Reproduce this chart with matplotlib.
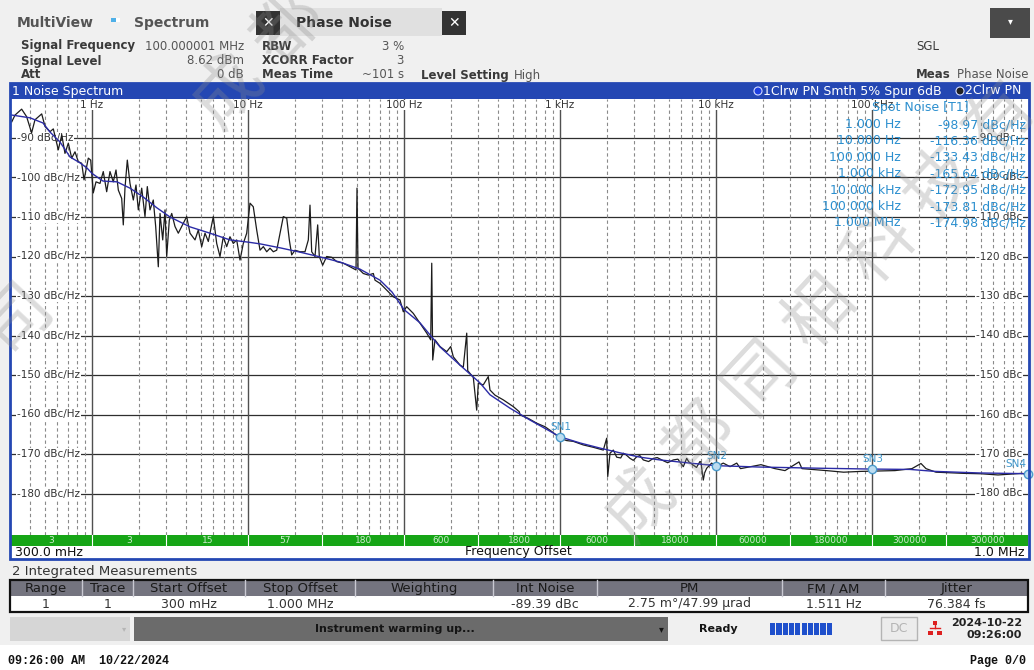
import numpy as np
import matplotlib
matplotlib.use('Agg')
import matplotlib.pyplot as plt
from matplotlib.patches import Rectangle, Circle
import matplotlib.transforms as mtransforms

# ---------------- data ----------------
# raw trace 2 (black, with spurs): offset frequency [Hz], phase noise [dBc/Hz]
raw_freq = [0.306, 0.321, 0.354, 0.381, 0.410, 0.431, 0.476, 0.500, 0.538, 0.565,
            0.608, 0.640, 0.671, 0.705, 0.741, 0.778, 0.817, 0.859, 0.889, 0.947,
            0.981, 1.019, 1.061, 1.125, 1.181, 1.242, 1.304, 1.369, 1.425, 1.475,
            1.550, 1.587, 1.627, 1.684, 1.752, 1.840, 1.914, 1.981, 2.083, 2.186,
            2.262, 2.354, 2.471, 2.560, 2.661, 2.729, 2.840, 2.938, 3.012, 3.130,
            3.244, 3.404, 3.574, 3.758, 4.046, 4.248, 4.574, 4.802, 5.049, 5.302,
            5.567, 5.992, 6.300, 6.614, 6.945, 7.302, 7.665, 8.049, 8.462, 8.887,
            9.330, 9.810, 10.30, 10.81, 11.37, 11.94, 12.54, 13.18, 13.84, 14.53,
            15.28, 16.21, 16.84, 17.71, 18.40, 19.06, 20.01, 21.54, 23.19, 24.36,
            24.97, 25.60, 26.88, 27.97, 28.65, 30.11, 31.94, 34.40, 37.05, 40.85,
            45.08, 49.24, 49.97, 50.72, 54.85, 59.06, 63.60, 65.20, 70.21, 77.44,
            85.35, 94.20, 99.02, 104.0, 114.7, 126.7, 139.9, 148.3, 150.6, 152.8,
            158.0, 170.2, 187.9, 199.2, 207.1, 228.6, 240.0, 252.4, 256.1, 278.1,
            292.4, 299.4, 322.3, 346.9, 355.8, 383.2, 433.1, 501.9, 548.5, 554.2,
            626.9, 709.4, 802.1, 885.1, 1000, 1104, 1217, 1410, 1635, 1895,
            1992, 2023, 2092, 2197, 2309, 2450, 2546, 2650, 2811, 2950,
            3103, 3250, 3420, 3700, 3965, 4200, 4595, 4900, 5324, 5700,
            6000, 6171, 6488, 6700, 7150, 7500, 7887, 8000, 8290, 8450,
            8714, 9380, 10090,
            11130, 12300, 13580, 14360, 19420, 23880, 27680, 34040, 35570, 51070,
            65770, 84770, 109200, 140300, 180300, 206000, 221900, 257200, 388900, 500000,
            642200, 915500, 1000000]
raw_db = [-85.9, -84.2, -82.7, -84.6, -88.7, -85.4, -83.9, -87.1, -88.4, -87.7,
          -93.0, -89.2, -93.9, -91.3, -95.1, -93.5, -96.0, -96.4, -100.6, -95.1,
          -95.6, -103.9, -101.1, -101.5, -98.5, -103.6, -98.5, -101.1, -98.1, -103.2,
          -105.3, -112.0, -102.7, -95.6, -101.5, -105.7, -101.9, -108.2, -102.7, -109.9,
          -102.3, -108.2, -105.7, -112.4, -122.6, -109.1, -115.8, -108.2, -120.0, -110.8,
          -109.1, -112.4, -114.1, -112.4, -109.9, -114.1, -115.8, -113.3, -117.5, -114.1,
          -116.2, -109.9, -116.7, -120.0, -115.0, -117.5, -115.0, -116.7, -115.8, -120.9,
          -116.7, -114.1, -106.5, -107.4, -113.3, -118.4, -117.5, -118.8, -117.9, -118.8,
          -118.4, -113.3, -109.9, -110.3, -115.8, -119.6, -118.4, -118.8, -118.8, -115.8,
          -107.0, -118.8, -120.0, -112.0, -120.0, -122.2, -120.0, -120.2, -121.3, -121.7,
          -122.6, -123.4, -102.7, -123.0, -124.3, -124.7, -124.3, -126.0, -126.8, -128.5,
          -130.2, -131.0, -134.0, -132.7, -134.4, -136.9, -139.4, -141.1, -121.7, -146.2,
          -141.1, -142.8, -144.1, -142.8, -145.4, -147.5, -148.0, -139.4, -148.9, -150.6,
          -158.9, -152.1, -152.5, -150.4, -153.8, -155.1, -156.3, -158.0, -159.3, -160.1,
          -161.0, -162.2, -163.1, -164.3, -166.0, -166.6, -166.8, -167.7, -168.3, -169.0,
          -166.0, -175.7, -169.8, -169.0, -170.8, -171.0, -169.8, -170.2, -171.1, -171.6,
          -170.7, -170.4, -171.5, -171.9, -171.1, -170.9, -171.7, -172.2, -171.5, -171.3,
          -172.5, -173.2, -171.1, -172.0, -172.8, -173.4, -171.9, -172.0, -176.6, -174.8,
          -173.6, -172.3, -173.2,
          -172.3, -173.2, -172.3, -173.7, -172.7, -173.7, -174.2, -172.0, -173.7, -174.2,
          -174.6, -174.4, -174.3, -174.2, -173.7, -172.4, -173.7, -174.6, -174.9, -175.0,
          -175.3, -174.9, -175.3]

# smoothed trace 1 (blue, spurs removed)
smooth_freq = [0.307, 0.401, 0.485, 0.538, 0.623, 0.723, 0.838, 0.929, 1.0, 1.176,
               1.446, 1.752, 2.123, 2.610, 3.162, 4.248, 5.704, 7.665, 10.0, 11.94,
               16.03, 21.54, 28.94, 38.87, 52.22, 70.21, 83.8, 100.0, 126.7, 170.2,
               228.6, 306.9, 355.8, 478.0, 642.0, 1000, 1343, 1804, 2424, 3257,
               4375, 6813, 10000, 19150, 46420, 100000, 175400, 253500, 492300, 1000000]
smooth_db = [-84.2, -84.9, -86.2, -88.5, -91.0, -94.8, -96.3, -97.6, -98.97, -100.9,
             -101.1, -102.7, -104.9, -107.7, -110.0, -112.5, -114.1, -115.8, -116.36, -116.8,
             -117.8, -118.9, -120.1, -121.4, -123.2, -126.0, -129.0, -133.43, -136.8, -142.9,
             -147.5, -152.0, -155.0, -158.4, -161.4, -165.64, -167.2, -168.5, -169.7, -170.8,
             -171.5, -172.3, -172.95, -173.3, -173.6, -173.81, -173.9, -174.4, -174.8, -174.98]

# spot noise table
spot_freq_labels = ["1.000 Hz", "10.000 Hz", "100.000 Hz", "1.000 kHz",
                    "10.000 kHz", "100.000 kHz", "1.000 MHz"]
spot_values = [-98.97, -116.36, -133.43, -165.64, -172.95, -173.81, -174.98]

# spot-noise markers shown on the trace
sn_labels = ["SN1", "SN2", "SN3", "SN4"]
sn_freq = [1e3, 1e4, 1e5, 1e6]
sn_db = [-165.64, -172.95, -173.81, -174.98]

# x-axis decade labels along the top
decade_freq = [1, 10, 100, 1e3, 1e4, 1e5]
decade_labels = ["1 Hz", "10 Hz", "100 Hz", "1 kHz", "10 kHz", "100 kHz"]
ygrid_db = [-90, -100, -110, -120, -130, -140, -150, -160, -170, -180]

# green range bar
range_edges = [0.3, 1, 3, 10, 30, 100, 300, 1e3, 3e3, 1e4, 3e4, 1e5, 3e5, 1e6]
range_labels = ["3", "3", "15", "57", "180", "600", "1800", "6000", "18000",
                "60000", "180000", "300000", "300000"]

# integrated measurements table
tbl_headers = ["Range", "Trace", "Start Offset", "Stop Offset", "Weighting",
               "Int Noise", "PM", "FM / AM", "Jitter"]
tbl_row = ["1", "1", "300 mHz", "1.000 MHz", "", "-89.39 dBc",
           "2.75 m°/47.99 µrad", "1.511 Hz", "76.384 fs"]

# ---------------- figure / layout ----------------
W, H = 1034, 670
fig = plt.figure(figsize=(W / 100, H / 100), dpi=100)
fig.patch.set_facecolor('#f0f0f0')


def pax(z):
    a = fig.add_axes([0, 0, 1, 1], zorder=z)
    a.set_xlim(0, W)
    a.set_ylim(H, 0)
    a.axis('off')
    a.patch.set_alpha(0)
    return a


bg = pax(0)
PX0, PX1, PY0, PY1 = 10.5, 1028, 99, 535
ax = fig.add_axes([PX0 / W, 1 - PY1 / H, (PX1 - PX0) / W, (PY1 - PY0) / H], zorder=1)
fg = pax(2)
P = bg.transData

ax.set_xscale('log')
ax.set_xlim(0.3003, 1e6)
ax.set_ylim(-190.5, -80.13)
ax.set_facecolor('white')
for s in ax.spines.values():
    s.set_visible(False)
ax.set_xticks([])
ax.set_yticks([])
ax.minorticks_off()

# grid
for d in ygrid_db:
    ax.axhline(d, color='#2e2e2e', lw=0.9, zorder=1)
for dec in [0.1, 1, 10, 100, 1e3, 1e4, 1e5]:
    for m in range(2, 10):
        f = m * dec
        if 0.3 < f < 1e6:
            ax.axvline(f, color='#8a8a8a', lw=0.8, ls=(0, (3, 2.5)), zorder=1)
for f in decade_freq:
    ax.axvline(f, color='#505050', lw=1.0, zorder=1)

# axis labels inside plot
lbl_box = dict(facecolor='white', edgecolor='none', pad=0.6)
for d in ygrid_db:
    y = 138 + (-90 - d) * 3.95
    ax.text(17, y, f"{d} dBc/Hz", transform=P, fontsize=7.5, color='#333333',
            ha='left', va='center', bbox=lbl_box, zorder=2)
    ax.text(976, y, f"{d} dBc", transform=P, fontsize=7.5, color='#333333',
            ha='left', va='center', bbox=lbl_box, zorder=2)
xb = mtransforms.blended_transform_factory(ax.transData, P)
for f, s in zip(decade_freq, decade_labels):
    ax.text(f, 105, s, transform=xb, fontsize=7.5, color='#333333', ha='center',
            va='center', bbox=dict(facecolor='white', edgecolor='none', pad=0.3), zorder=2)

# traces
ax.plot(raw_freq, raw_db, color='#1c1c1c', lw=0.9, zorder=3)
ax.plot(smooth_freq, smooth_db, color='#2b2ba6', lw=1.0, zorder=4)
sn_offsets = [(-7, 5), (-7, 5), (-7, 5), (-16, 5)]
for s, f, d, off in zip(sn_labels, sn_freq, sn_db, sn_offsets):
    ax.plot([f], [d], marker='o', ms=6, mfc='#bcdcf0', mec='#4a9acb', mew=1.0,
            zorder=5, clip_on=False)
    ax.annotate(s, (f, d), xytext=off, textcoords='offset points', fontsize=7.5,
                color='#3f97cc', zorder=5, annotation_clip=False)

# spot noise table
SC = '#2b8fcf'
fg.text(920, 108, "Spot Noise [T1]", fontsize=9, color=SC, ha='center', va='center')
for i, (fl, v) in enumerate(zip(spot_freq_labels, spot_values)):
    y = 124.5 + i * 16.4
    fg.text(901, y, fl, fontsize=9, color=SC, ha='right', va='center')
    fg.text(1026, y, f"{v:.2f} dBc/Hz", fontsize=9, color=SC, ha='right', va='center')

# green range bar
fg.add_patch(Rectangle((PX0, 535), PX1 - PX0, 10.5, facecolor='#16a516', edgecolor='none'))
for e in range_edges[1:-1]:
    fg.plot([e, e], [535, 545.5], transform=xb, color='white', lw=0.8)
for a, b, s in zip(range_edges[:-1], range_edges[1:], range_labels):
    c = np.sqrt(a * b)
    fg.text(c, 540.5, s, transform=xb, fontsize=6.5, color='#cfeccf', ha='center', va='center')
fg.add_patch(Rectangle((PX0, 545.5), PX1 - PX0, 13, facecolor='white', edgecolor='none'))
fg.text(15, 552, "300.0 mHz", fontsize=9, color='#111111', ha='left', va='center')
fg.text(518, 552, "Frequency Offset", fontsize=9, color='#111111', ha='center', va='center')
fg.text(1024, 552, "1.0 MHz", fontsize=9, color='#111111', ha='right', va='center')

# blue window frame and title bar
BL = '#2447b3'
fg.add_patch(Rectangle((9.5, 83), 1019.5, 476, facecolor='none', edgecolor=BL, lw=2))
fg.add_patch(Rectangle((9.5, 83), 1019.5, 16, facecolor=BL, edgecolor='none'))
fg.text(12, 91, "1 Noise Spectrum", fontsize=9, color='white', ha='left', va='center')
fg.add_patch(Circle((758, 91), 4, facecolor='#1d3fe0', edgecolor='#d0d8ff', lw=0.8))
fg.text(763, 91, "1Clrw PN Smth 5% Spur 6dB", fontsize=9, color='white', ha='left', va='center')
fg.add_patch(Circle((960, 91), 4, facecolor='#222222', edgecolor='#d0d8ff', lw=0.8))
fg.text(965, 91, "2Clrw PN", fontsize=9, color='white', ha='left', va='center')

# ---------------- header ----------------
bg.text(17, 23, "MultiView", fontsize=10, fontweight='bold', color='#555555', va='center')
bg.add_patch(Rectangle((111, 18), 5, 4, facecolor='#4fb0e8', edgecolor='none'))
bg.add_patch(Rectangle((116, 18), 4, 4, facecolor='white', edgecolor='none'))
bg.text(134, 23, "Spectrum", fontsize=10, fontweight='bold', color='#555555', va='center')
bg.add_patch(Rectangle((280, 8), 162, 28, facecolor='#e0e0e0', edgecolor='none'))
bg.text(296, 23, "Phase Noise", fontsize=10, fontweight='bold', color='#333333', va='center')
for x0 in (256, 442):
    bg.add_patch(Rectangle((x0, 11), 24, 24, facecolor='#333333', edgecolor='none'))
    bg.text(x0 + 12, 23, "✕", fontsize=10, fontweight='bold', color='white',
            ha='center', va='center')
bg.add_patch(Rectangle((990, 8), 40, 30, facecolor='#4a4a4a', edgecolor='none'))
bg.text(1010, 21, "▾", fontsize=7, color='white', ha='center', va='center')

rows = [
    (46, "Signal Frequency", "100.000001 MHz", "RBW", "3 %"),
    (61, "Signal Level", "8.62 dBm", "XCORR Factor", "3"),
    (75, "Att", "0 dB", "Meas Time", "~101 s"),
]
for y, n1, v1, n2, v2 in rows:
    bg.text(21, y, n1, fontsize=8.5, fontweight='bold', color='#3a3a3a', va='center')
    bg.text(244, y, v1, fontsize=8.5, color='#555555', va='center', ha='right')
    bg.text(262, y, n2, fontsize=8.5, fontweight='bold', color='#3a3a3a', va='center')
    bg.text(404, y, v2, fontsize=8.5, color='#555555', va='center', ha='right')
bg.text(421, 75, "Level Setting", fontsize=8.5, fontweight='bold', color='#3a3a3a', va='center')
bg.text(514, 75, "High", fontsize=8.5, color='#555555', va='center')
bg.text(916, 46, "SGL", fontsize=8.5, color='#3a3a3a', va='center')
bg.text(916, 75, "Meas", fontsize=8.5, fontweight='bold', color='#3a3a3a', va='center')
bg.text(957, 75, "Phase Noise", fontsize=8.5, color='#555555', va='center')

# ---------------- integrated measurements ----------------
bg.text(12, 572, "2 Integrated Measurements", fontsize=9.5, color='#333333', va='center')
col_edges = [10, 82, 133, 245, 355, 493, 597, 782, 885, 1028]
bg.add_patch(Rectangle((10, 580), 1018, 16, facecolor='#74747f', edgecolor='none'))
bg.add_patch(Rectangle((10, 596), 1018, 16, facecolor='white', edgecolor='none'))
for xe in col_edges[1:-1]:
    bg.plot([xe, xe], [580, 596], color='#c9c9d2', lw=1.0)
for i, (h, v) in enumerate(zip(tbl_headers, tbl_row)):
    c = (col_edges[i] + col_edges[i + 1]) / 2
    bg.text(c, 588.5, h, fontsize=9.5, color='#1a1a1a', ha='center', va='center')
    bg.text(c, 604, v, fontsize=9, color='#333333', ha='center', va='center')
bg.add_patch(Rectangle((10, 580), 1018, 32, facecolor='none', edgecolor='#111111', lw=1.6))

# ---------------- status bar ----------------
bg.add_patch(Rectangle((10, 617), 120, 24, facecolor='#d6d6d6', edgecolor='none'))
bg.text(124, 629, "▾", fontsize=6, color='#b5b5b5', ha='center', va='center')
bg.add_patch(Rectangle((134, 617), 534, 24, facecolor='#6b6b6b', edgecolor='none'))
bg.text(395, 629, "Instrument warming up...", fontsize=8, fontweight='bold',
        color='#151515', ha='center', va='center')
bg.text(661, 629, "▾", fontsize=7, color='#151515', ha='center', va='center')
bg.text(718, 629, "Ready", fontsize=8, fontweight='bold', color='#151515', ha='center', va='center')
for k in range(10):
    bg.add_patch(Rectangle((770 + k * 6.3, 623), 5.2, 12, facecolor='#1f50cc', edgecolor='none'))
bg.add_patch(Rectangle((881, 617), 36, 23, facecolor='#ececec', edgecolor='#b4b4b4', lw=1))
bg.text(899, 629, "DC", fontsize=9, color='#b4b4b4', ha='center', va='center')
RC = '#dd2020'
bg.add_patch(Rectangle((932.5, 621), 4.5, 4, facecolor=RC, edgecolor='none'))
bg.plot([930, 940], [628, 628], color=RC, lw=1)
bg.plot([934.7, 934.7], [625, 628], color=RC, lw=1)
bg.add_patch(Rectangle((928, 630.5), 4.5, 4, facecolor=RC, edgecolor='none'))
bg.add_patch(Rectangle((937, 630.5), 4.5, 4, facecolor=RC, edgecolor='none'))
bg.text(1022, 623, "2024-10-22", fontsize=8, fontweight='bold', color='#222222',
        ha='right', va='center')
bg.text(1022, 635, "09:26:00", fontsize=8, fontweight='bold', color='#222222',
        ha='right', va='center')
bg.add_patch(Rectangle((0, 645), W, 25, facecolor='white', edgecolor='none'))
bg.text(8, 661, "09:26:00 AM  10/22/2024", fontsize=8.5, fontweight='bold',
        family='Liberation Mono', color='#111111', va='center')
bg.text(1026, 661, "Page 0/0", fontsize=8.5, fontweight='bold', family='Liberation Mono',
        color='#111111', va='center', ha='right')

# ---------------- watermark ----------------
wm = pax(3)
wm_text = "成都同相科技有限公司"
ang = 47
dx, dy = np.cos(np.radians(ang)), -np.sin(np.radians(ang))
pitch = 88
for (sx, sy) in [(640, 505), (228, 92)]:
    for rep in (-1, 0):
        for k, ch in enumerate(wm_text):
            kk = k + rep * 12.5
            cx, cy = sx + kk * pitch * dx, sy + kk * pitch * dy
            if -25 < cx < W + 25 and -25 < cy < H + 25:
                wm.text(cx, cy, ch, fontsize=50, family='Noto Sans CJK SC',
                        color='#8c8c8c', alpha=0.30, rotation=ang, ha='center',
                        va='center', rotation_mode='anchor')

fig.savefig('out.png', dpi=100, facecolor=fig.get_facecolor())
